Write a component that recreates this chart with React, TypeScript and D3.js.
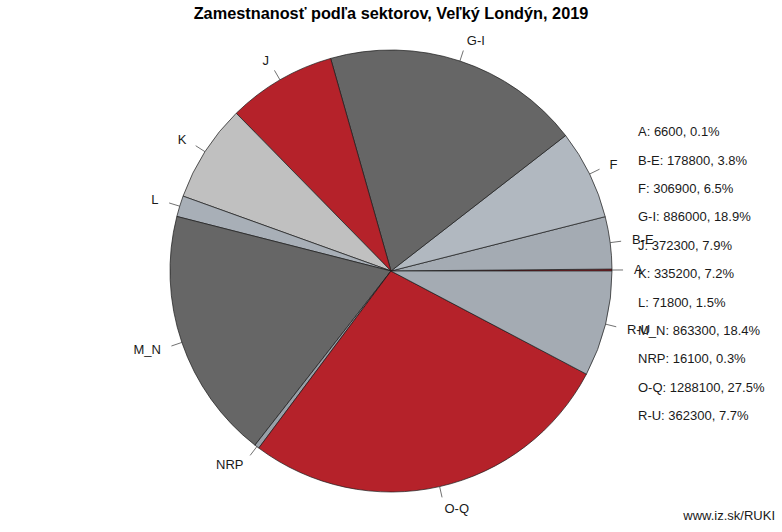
import React from "react";
import * as d3 from "d3";

const categories = ["A", "B-E", "F", "G-I", "J", "K", "L", "M_N", "NRP", "O-Q", "R-U"];
const values = [6600, 178800, 306900, 886000, 372300, 335200, 71800, 863300, 16100, 1288100, 362300];
const percents = ["0.1%", "3.8%", "6.5%", "18.9%", "7.9%", "7.2%", "1.5%", "18.4%", "0.3%", "27.5%", "7.7%"];
const colors = ["#b5222a", "#a4abb3", "#b1b8c0", "#666666", "#b5222a", "#c0c0c0", "#a8afb7", "#666666", "#98a0a8", "#b5222a", "#a4abb3"];
const title = "Zamestnanosť podľa sektorov, Veľký Londýn, 2019";
const footer = "www.iz.sk/RUKI";

const W = 782;
const H = 532;
const cx = 391;
const cy = 271;
const R = 221;
const font = "'Liberation Sans', Arial, Helvetica, sans-serif";

export default function App() {
  const data = categories.map((c, i) => ({ c, v: values[i], p: percents[i], col: colors[i] }));
  const pie = d3
    .pie<any>()
    .value((d: any) => d.v)
    .sort(null)
    .startAngle(Math.PI / 2)
    .endAngle(Math.PI / 2 - 2 * Math.PI);
  const arcs = pie(data);
  const arc = d3.arc<any>().innerRadius(0).outerRadius(R);

  const legendY = d3.scaleLinear().domain([0, categories.length - 1]).range([131.7, 415.7]);

  return (
    <svg width={W} height={H} style={{ position: "absolute", left: 0, top: 0, background: "#fff" }}>
      <rect x={0} y={0} width={W} height={H} fill="#fff" />
      <text x={391} y={19} textAnchor="middle" fontFamily={font} fontWeight="bold" fontSize={16.3} fill="#000">
        {title}
      </text>
      <g transform={`translate(${cx},${cy})`}>
        {arcs.map((a, i) => (
          <path key={i} d={arc(a) as string} fill={a.data.col} stroke="#1a1a1a" strokeWidth={0.7} />
        ))}
        {arcs.map((a, i) => {
          const mid = (a.startAngle + a.endAngle) / 2;
          const x = Math.sin(mid);
          const y = -Math.cos(mid);
          return (
            <g key={"l" + i}>
              <line x1={x * R} y1={y * R} x2={x * R * 1.05} y2={y * R * 1.05} stroke="#333" strokeWidth={0.7} />
              <text
                x={x * R * 1.1}
                y={y * R * 1.1}
                dy="0.35em"
                textAnchor={x < 0 ? "end" : "start"}
                fontFamily={font}
                fontSize={13}
                fill="#1a1a1a"
              >
                {a.data.c}
              </text>
            </g>
          );
        })}
      </g>
      {data.map((d, i) => (
        <text key={"g" + i} x={638} y={legendY(i)} dy="0.35em" fontFamily={font} fontSize={13} fill="#1a1a1a">
          {`${d.c}: ${d.v}, ${d.p}`}
        </text>
      ))}
      <text x={775} y={520} textAnchor="end" fontFamily={font} fontSize={13} fill="#1a1a1a">
        {footer}
      </text>
    </svg>
  );
}
